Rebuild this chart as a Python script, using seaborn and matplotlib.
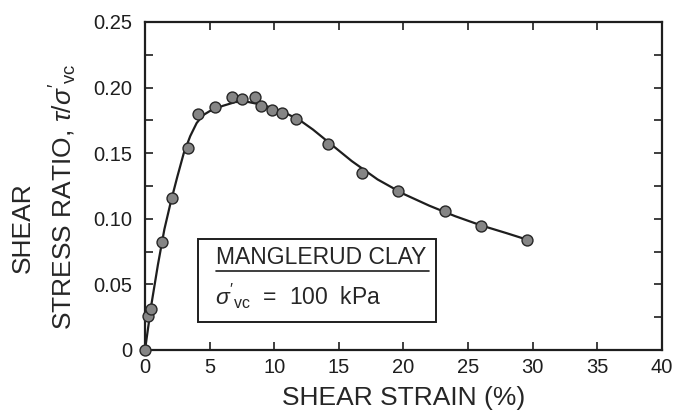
import pandas as pd
import seaborn as sns
import matplotlib.pyplot as plt
from matplotlib.patches import Rectangle
from matplotlib.ticker import MultipleLocator, FuncFormatter

strain = [0, 0.2, 0.5, 1.3, 2.1, 3.3, 4.1, 5.4, 6.7, 7.5, 8.5, 8.95,
          9.8, 10.6, 11.7, 14.2, 16.8, 19.6, 23.2, 26.0, 29.6]
ratio = [0, 0.026, 0.031, 0.082, 0.116, 0.154, 0.180, 0.185, 0.193, 0.191,
         0.193, 0.186, 0.183, 0.181, 0.176, 0.157, 0.135, 0.121, 0.106,
         0.0945, 0.084]

# hand-drawn fit line
curve_x = [0, 0.5, 1.0, 1.5, 2.0, 2.5, 3.0, 3.5, 4.0, 4.5, 5.0, 6.0, 7.0,
           8.0, 9.0, 10.0, 11.0, 12.0, 13.0, 14.0, 16.0, 18.0, 20.0, 22.0,
           24.0, 26.0, 28.0, 29.6]
curve_y = [0, 0.035, 0.065, 0.092, 0.113, 0.132, 0.150, 0.163, 0.173,
           0.179, 0.182, 0.186, 0.189, 0.189, 0.187, 0.184, 0.180, 0.175,
           0.168, 0.160, 0.144, 0.130, 0.119, 0.110, 0.102, 0.095, 0.089,
           0.084]

pts = pd.DataFrame({"strain": strain, "ratio": ratio})
fit = pd.DataFrame({"strain": curve_x, "ratio": curve_y})

sns.set_style("ticks")
plt.rcParams["font.family"] = ["Liberation Sans", "DejaVu Sans"]
plt.rcParams["mathtext.fontset"] = "custom"
plt.rcParams["mathtext.rm"] = "Liberation Sans"
plt.rcParams["mathtext.it"] = "Liberation Sans:italic"

fig = plt.figure(figsize=(6.76, 4.17), dpi=100)
ax = fig.add_axes([0.2145, 0.1607, 0.7645, 0.7866])

sns.lineplot(data=fit, x="strain", y="ratio", ax=ax, color="#1e1e1e",
             linewidth=1.6, sort=False, zorder=2)
sns.scatterplot(data=pts, x="strain", y="ratio", ax=ax, s=62,
                color="#858585", edgecolor="#262626", linewidth=1.0,
                zorder=3, clip_on=False)

ax.set_xlim(0, 40)
ax.set_ylim(0, 0.25)
ax.xaxis.set_major_locator(MultipleLocator(5))
ax.yaxis.set_major_locator(MultipleLocator(0.05))
ax.yaxis.set_minor_locator(MultipleLocator(0.025))
ax.yaxis.set_major_formatter(FuncFormatter(lambda v, p: "0" if v == 0 else f"{v:.2f}"))
ax.tick_params(which="both", direction="in", top=True, right=True,
               width=1.2, colors="#1e1e1e")
ax.tick_params(which="major", length=6, labelsize=14.5)
ax.tick_params(which="minor", length=6)
ax.tick_params(axis="y", pad=9)
ax.tick_params(axis="x", pad=6)
for s in ax.spines.values():
    s.set_linewidth(1.6)
    s.set_color("#1e1e1e")

ax.set_xlabel("SHEAR STRAIN (%)", fontsize=19, labelpad=6)
ax.set_ylabel("")
fig.text(0.034, 0.455, "SHEAR", rotation=90, fontsize=19,
         ha="center", va="center")
fig.text(0.093, 0.528, r"STRESS RATIO, $\tau/\sigma'_{\rm vc}$", rotation=90,
         fontsize=19, ha="center", va="center")

# annotation box
ax.add_patch(Rectangle((4.12, 0.0216), 18.4, 0.0628, fill=False,
                       edgecolor="#1e1e1e", linewidth=1.4, zorder=4))
ax.text(5.5, 0.0705, "MANGLERUD CLAY", fontsize=16.5, va="center", ha="left")
ax.plot([5.5, 22.0], [0.0604, 0.0604], color="#1e1e1e", linewidth=1.2)
ax.text(5.4, 0.0406, r"$\sigma'_{\rm vc}$  =  100  kPa", fontsize=16.5,
        va="center", ha="left")

fig.savefig("out.png", dpi=100)
